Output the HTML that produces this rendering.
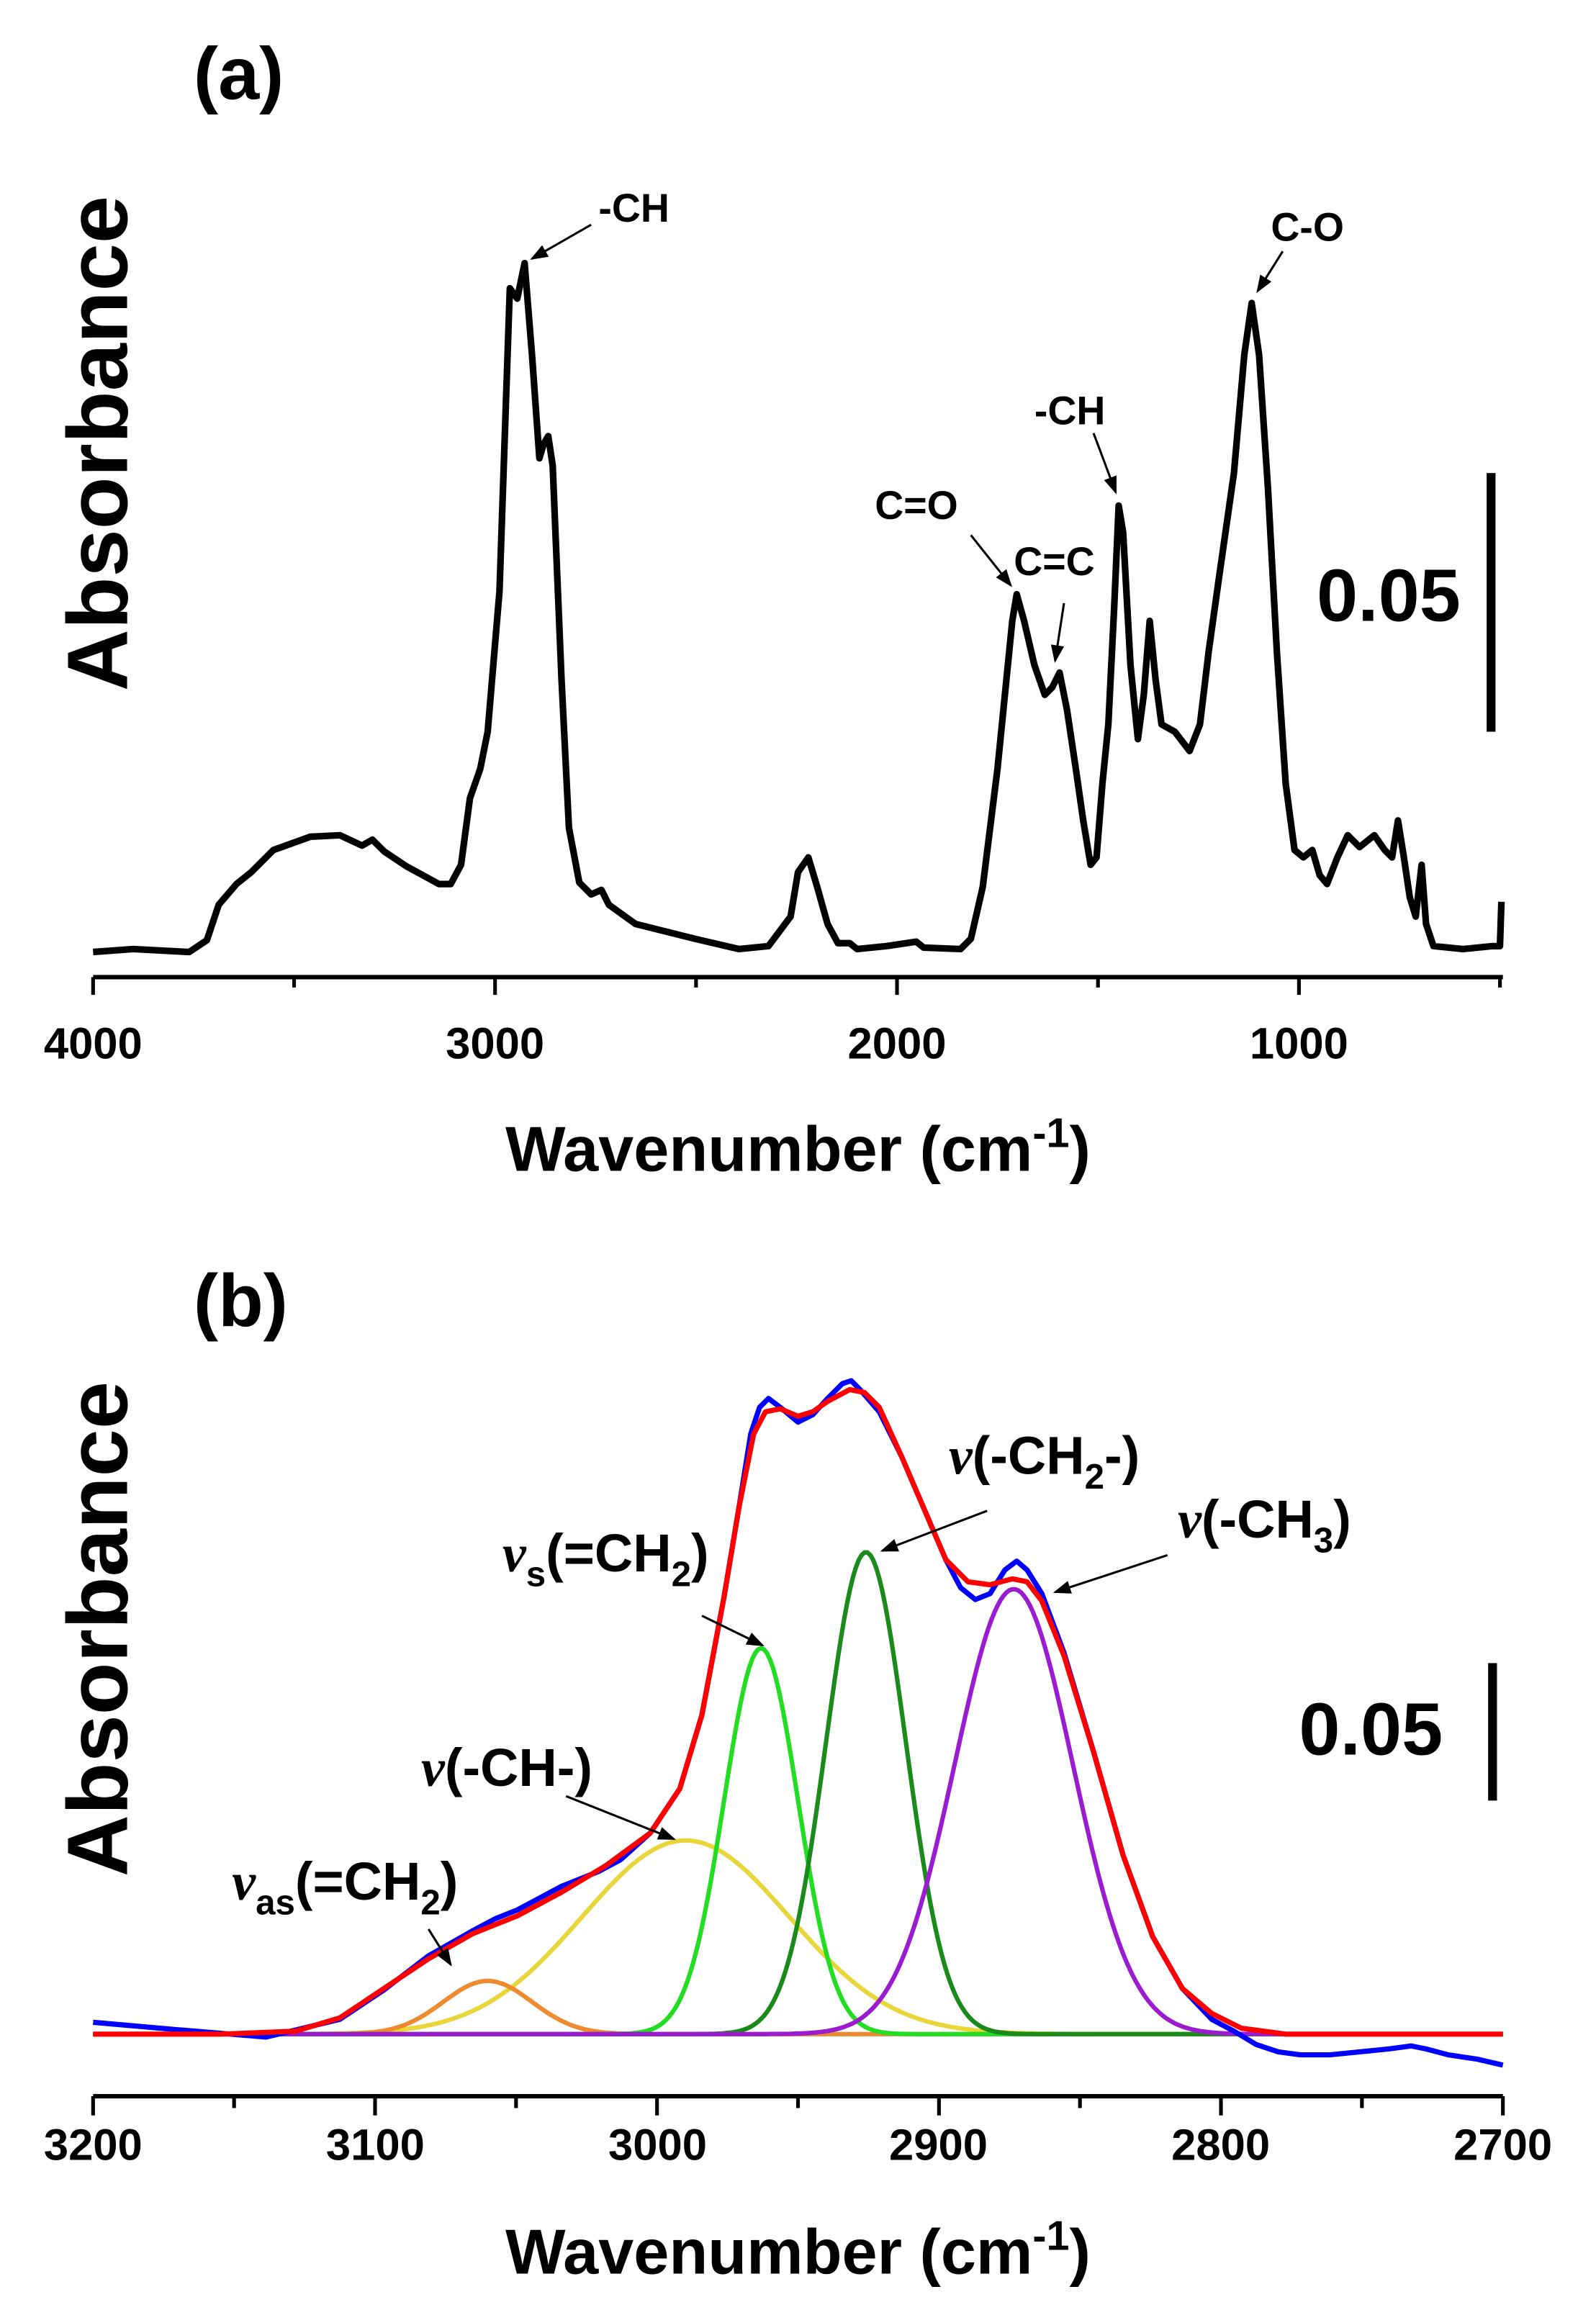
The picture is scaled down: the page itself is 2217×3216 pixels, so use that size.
<!DOCTYPE html>
<html><head><meta charset="utf-8"><style>
html,body{margin:0;padding:0;background:#fff;}
svg{display:block;}
text{font-family:"Liberation Sans",sans-serif;font-weight:bold;fill:#000;}
</style></head><body>
<svg id="s" xmlns="http://www.w3.org/2000/svg" width="2217" height="3216" viewBox="0 0 1080 1566" preserveAspectRatio="none">
<defs><marker id="ah" markerWidth="8" markerHeight="6" refX="7" refY="3" orient="auto" markerUnits="strokeWidth"><path d="M0,0 L8,3 L0,6 z" fill="#000"/></marker></defs>
<rect width="1080" height="1566" fill="#fff"/>
<!-- Panel a -->
<text x="131" y="67" font-size="50">(a)</text>
<text transform="translate(86,300) rotate(-90)" font-size="58" text-anchor="middle">Absorbance</text>
<line x1="63" y1="661" x2="1017" y2="661" stroke="#000" stroke-width="3"/>
<g stroke="#000" stroke-width="2.5">
<line x1="63" y1="661" x2="63" y2="673"/><line x1="199" y1="661" x2="199" y2="668"/>
<line x1="335" y1="661" x2="335" y2="673"/><line x1="471" y1="661" x2="471" y2="668"/>
<line x1="607" y1="661" x2="607" y2="673"/><line x1="743" y1="661" x2="743" y2="668"/>
<line x1="879" y1="661" x2="879" y2="673"/><line x1="1015" y1="661" x2="1015" y2="668"/>
</g>
<g font-size="30" text-anchor="middle">
<text x="63" y="716">4000</text><text x="335" y="716">3000</text><text x="607" y="716">2000</text><text x="879" y="716">1000</text>
</g>
<text x="540" y="792" font-size="43" text-anchor="middle">Wavenumber (cm<tspan font-size="28" dy="-16">-1</tspan><tspan dy="16">)</tspan></text>
<polyline fill="none" stroke="#000" stroke-width="4.5" stroke-linejoin="round" points="63,644 90,642 128,644 140,636 148,612 160,598 170,590 185,575 210,566 230,565 245,572 252,568 260,576 275,586 297,598 305,598 312,585 318,540 325,520 330,495 338,400 345,195 350,202 355,178 360,240 365,310 368,300 371,295 374,315 380,460 385,560 392,597 400,605 407,602 412,612 430,625 470,635 500,642 520,640 535,620 540,590 547,580 553,600 560,625 567,638 575,638 580,642 600,640 620,637 625,641 650,642 657,635 665,600 675,520 685,420 688,402 693,420 700,450 707,470 712,465 717,455 722,480 728,520 733,555 738,585 742,580 746,530 750,490 754,410 757,342 760,360 765,450 770,500 774,470 778,420 782,460 786,490 795,495 805,508 812,490 818,440 825,390 835,320 842,240 847,205 852,240 858,330 864,440 870,530 876,575 882,580 888,575 893,592 898,598 905,580 912,565 920,573 930,565 937,575 942,580 946,555 950,580 954,607 958,620 962,585 965,625 970,640 990,642 1010,640 1015,640 1016,610"/>
<g font-size="27">
<text x="405" y="150">-CH</text><text x="860" y="163">C-O</text><text x="700" y="287">-CH</text>
<text x="592" y="351">C=O</text><text x="686" y="389">C=C</text>
</g>
<g stroke="#000" stroke-width="1.5" marker-end="url(#ah)">
<line x1="400" y1="152" x2="360" y2="175"/><line x1="868" y1="170" x2="851" y2="197"/>
<line x1="740" y1="293" x2="755" y2="333"/><line x1="657" y1="362" x2="684" y2="396"/>
<line x1="720" y1="408" x2="714" y2="447"/>
</g>
<text x="891" y="420" font-size="50">0.05</text>
<line x1="1009" y1="320" x2="1009" y2="495" stroke="#000" stroke-width="6"/>
<!-- Panel b -->
<text x="131" y="897" font-size="50">(b)</text>
<text transform="translate(86,1102) rotate(-90)" font-size="58" text-anchor="middle">Absorbance</text>
<line x1="63" y1="1418" x2="1017" y2="1418" stroke="#000" stroke-width="3"/>
<g id="tb" stroke="#000" stroke-width="2.5"></g>
<g font-size="30" text-anchor="middle">
<text x="63" y="1461">3200</text><text x="254" y="1461">3100</text><text x="445" y="1461">3000</text><text x="635" y="1461">2900</text><text x="826" y="1461">2800</text><text x="1017" y="1461">2700</text>
</g>
<text x="540" y="1538" font-size="43" text-anchor="middle">Wavenumber (cm<tspan font-size="28" dy="-16">-1</tspan><tspan dy="16">)</tspan></text>
<g id="comp" fill="none" stroke-width="3"></g>
<polyline fill="none" stroke="#0000ff" stroke-width="3.5" stroke-linejoin="round" points="63,1368 120,1373 180,1378 230,1366 260,1346 290,1323 320,1306 335,1298 350,1292 380,1276 405,1266 420,1258 440,1240 460,1210 475,1160 490,1080 500,1020 508,970 514,952 520,946 528,952 540,962 550,957 560,946 570,936 576,934 582,940 595,955 610,985 625,1020 640,1055 650,1074 660,1082 670,1078 680,1062 688,1056 695,1062 705,1078 720,1118 740,1185 760,1255 780,1310 800,1345 820,1366 835,1374 850,1383 865,1388 880,1390 900,1390 920,1388 940,1386 955,1384 965,1386 980,1390 1000,1393 1017,1397"/>
<polyline fill="none" stroke="#ff0000" stroke-width="3.5" stroke-linejoin="round" points="63,1376 150,1376 200,1374 230,1365 260,1345 290,1325 320,1308 350,1296 380,1280 410,1262 440,1240 460,1210 475,1160 490,1080 500,1020 510,970 518,955 528,953 540,958 550,955 560,948 575,940 585,942 595,952 610,985 625,1020 640,1055 655,1070 670,1072 685,1068 695,1070 705,1083 720,1120 740,1185 760,1255 780,1310 800,1345 820,1362 840,1372 870,1376 1017,1376"/>
<g font-size="36">
<text x="642" y="997"><tspan font-family="Liberation Serif" font-style="italic">ν</tspan>(-CH<tspan font-size="24" dy="10">2</tspan><tspan dy="-10">-)</tspan></text>
<text x="797" y="1040"><tspan font-family="Liberation Serif" font-style="italic">ν</tspan>(-CH<tspan font-size="24" dy="10">3</tspan><tspan dy="-10">)</tspan></text>
<text x="340" y="1063"><tspan font-family="Liberation Serif" font-style="italic">ν</tspan><tspan font-size="24" dy="10">s</tspan><tspan dy="-10">(=CH</tspan><tspan font-size="24" dy="10">2</tspan><tspan dy="-10">)</tspan></text>
<text x="285" y="1208"><tspan font-family="Liberation Serif" font-style="italic">ν</tspan>(-CH-)</text>
<text x="157" y="1285"><tspan font-family="Liberation Serif" font-style="italic">ν</tspan><tspan font-size="24" dy="10">as</tspan><tspan dy="-10">(=CH</tspan><tspan font-size="24" dy="10">2</tspan><tspan dy="-10">)</tspan></text>
</g>
<g stroke="#000" stroke-width="1.5" marker-end="url(#ah)">
<line x1="668" y1="1022" x2="597" y2="1049"/><line x1="790" y1="1052" x2="714" y2="1077"/>
<line x1="475" y1="1093" x2="516" y2="1113"/><line x1="383" y1="1215" x2="456" y2="1244"/>
<line x1="290" y1="1305" x2="305" y2="1329"/>
</g>
<text x="879" y="1187" font-size="50">0.05</text>
<line x1="1010" y1="1125" x2="1010" y2="1218" stroke="#000" stroke-width="6"/>
</svg>
<script>
(function(){
var NS="http://www.w3.org/2000/svg";
var tb=document.getElementById("tb");
for(var i=0;i<=10;i++){var x=63+i*95.4;var l=document.createElementNS(NS,"line");
l.setAttribute("x1",x);l.setAttribute("x2",x);l.setAttribute("y1",1418);l.setAttribute("y2",i%2?1426:1431);tb.appendChild(l);}
var comps=[["#e8d63a",464,131,70],["#ee8a30",330,36,30],["#22dd22",515,261,25],["#1a8a1a",586,326,27],["#9b1bd0",686,301,40]];
var g=document.getElementById("comp");
comps.forEach(function(c){var p=[];for(var x=63;x<=1017;x+=2){var y=1376-c[2]*Math.exp(-Math.pow(x-c[1],2)/(2*c[3]*c[3]));p.push(x+","+y.toFixed(1));}
var pl=document.createElementNS(NS,"polyline");pl.setAttribute("points",p.join(" "));pl.setAttribute("stroke",c[0]);g.appendChild(pl);});
})();
</script>
</body></html>
